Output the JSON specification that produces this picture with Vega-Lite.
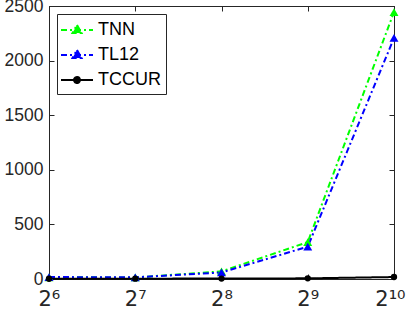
{
  "$schema": "https://vega.github.io/schema/vega-lite/v6.json",
  "width": 345,
  "height": 273,
  "autosize": {"type": "none"},
  "padding": {"left": 49, "top": 6, "right": 13, "bottom": 32},
  "background": "white",
  "config": {
    "view": {"stroke": "#262626", "strokeWidth": 1},
    "font": "Liberation Sans",
    "axis": {"grid": false, "domainColor": "#262626", "tickColor": "#262626", "labelColor": "#262626", "labelFont": "Liberation Sans", "labelFontSize": 17.5, "title": null}
  },
  "data": {
    "values": [
      {"n": 64, "series": "TNN", "value": 16},
      {"n": 128, "series": "TNN", "value": 14},
      {"n": 256, "series": "TNN", "value": 70},
      {"n": 512, "series": "TNN", "value": 338},
      {"n": 1024, "series": "TNN", "value": 2445},
      {"n": 64, "series": "TL12", "value": 18},
      {"n": 128, "series": "TL12", "value": 15},
      {"n": 256, "series": "TL12", "value": 60},
      {"n": 512, "series": "TL12", "value": 296},
      {"n": 1024, "series": "TL12", "value": 2207},
      {"n": 64, "series": "TCCUR", "value": 2},
      {"n": 128, "series": "TCCUR", "value": 3},
      {"n": 256, "series": "TCCUR", "value": 4},
      {"n": 512, "series": "TCCUR", "value": 6},
      {"n": 1024, "series": "TCCUR", "value": 18}
    ]
  },
  "resolve": {"axis": {"x": "independent", "y": "independent"}},
  "layer": [
    {
      "mark": {"type": "line", "strokeWidth": 2},
      "encoding": {
        "x": {"field": "n", "type": "quantitative", "scale": {"type": "log", "base": 2, "domain": [64, 1024], "nice": false},
          "axis": {"values": [64, 128, 256, 512, 1024], "tickSize": -5, "labelPadding": 14, "labelFlush": true, "labelFlushOffset": 11, "labelOverlap": false, "labelBound": false, "labelFont": "DejaVu Sans", "labelFontSize": 21, "labelColor": "#262626", "labelExpr": "datum.value == 64 ? '2⁶' : datum.value == 128 ? '2⁷' : datum.value == 256 ? '2⁸' : datum.value == 512 ? '2⁹' : '2¹⁰'"}},
        "y": {"field": "value", "type": "quantitative", "scale": {"domain": [0, 2500], "nice": false},
          "axis": {"values": [0, 500, 1000, 1500, 2000, 2500], "format": "d", "tickSize": -5, "labelPadding": 11}},
        "color": {"field": "series", "type": "nominal",
          "scale": {"domain": ["TNN", "TL12", "TCCUR"], "range": ["#00ff00", "#0000ff", "#000000"]},
          "legend": {
            "title": null, "orient": "top-left", "offset": 8, "padding": 5,
            "strokeColor": "#262626", "fillColor": "white",
            "labelFont": "Liberation Sans", "labelFontSize": 18, "labelColor": "#000000",
            "symbolSize": 400, "symbolOffset": 4, "labelOffset": 10, "rowPadding": 5, "symbolStrokeWidth": 2,
            "encode": {"symbols": {"update": {
              "shape": {"signal": "datum.value === 'TCCUR' ? 'M-1.6,0H1.6M0.3,0A0.3,0.3,0,1,1,-0.3,0A0.3,0.3,0,1,1,0.3,0Z' : 'M-1.6,0H1.6M0,-0.5L0.45,0.3L-0.45,0.3Z'"},
              "strokeDash": {"signal": "datum.value === 'TCCUR' ? [] : [6,3,2,3]"},
              "fill": {"signal": "datum.value === 'TNN' ? '#00ff00' : datum.value === 'TL12' ? '#0000ff' : '#000000'"},
              "fillOpacity": {"value": 1}
            }}}
          }},
        "strokeDash": {"field": "series", "type": "nominal",
          "scale": {"domain": ["TNN", "TL12", "TCCUR"], "range": [[6, 3, 2, 3], [6, 3, 2, 3], [1, 0]]}, "legend": null}
      }
    },
    {
      "transform": [{"filter": "datum.series === 'TNN'"}],
      "mark": {"type": "point", "shape": "triangle-up", "filled": true, "opacity": 1, "color": "#00ff00", "size": 80},
      "encoding": {
        "x": {"field": "n", "type": "quantitative", "scale": {"type": "log", "base": 2, "domain": [64, 1024], "nice": false},
          "axis": {"orient": "top", "values": [64, 128, 256, 512, 1024], "tickSize": -5, "labels": false}},
        "y": {"field": "value", "type": "quantitative", "scale": {"domain": [0, 2500], "nice": false},
          "axis": {"orient": "right", "values": [0, 500, 1000, 1500, 2000, 2500], "tickSize": -5, "labels": false}}
      }
    },
    {
      "transform": [{"filter": "datum.series === 'TL12'"}],
      "mark": {"type": "point", "shape": "triangle-up", "filled": true, "opacity": 1, "color": "#0000ff", "size": 80},
      "encoding": {
        "x": {"field": "n", "type": "quantitative", "axis": null},
        "y": {"field": "value", "type": "quantitative", "axis": null}
      }
    },
    {
      "transform": [{"filter": "datum.series === 'TCCUR'"}],
      "mark": {"type": "point", "shape": "circle", "filled": true, "opacity": 1, "color": "#000000", "size": 40},
      "encoding": {
        "x": {"field": "n", "type": "quantitative", "axis": null},
        "y": {"field": "value", "type": "quantitative", "axis": null}
      }
    }
  ]
}
